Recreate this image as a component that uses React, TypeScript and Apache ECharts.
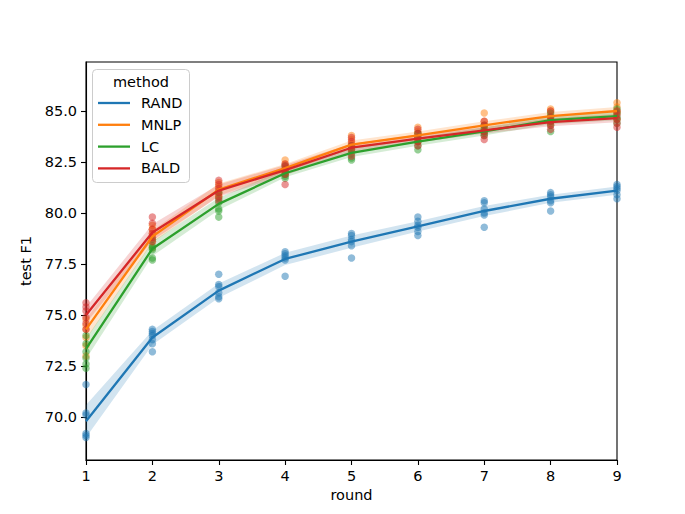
import React, { useEffect, useRef } from "react";
import * as echarts from "echarts";

const ROUNDS = [1, 2, 3, 4, 5, 6, 7, 8, 9];
const METHODS = ["RAND", "MNLP", "LC", "BALD"];
const COLORS = ["#1f77b4", "#ff7f0e", "#2ca02c", "#d62728"];
const Y_TICKS = [70, 72.5, 75, 77.5, 80, 82.5, 85];

const RAND_MEAN = [69.8, 73.9, 76.2, 77.75, 78.6, 79.35, 80.1, 80.7, 81.1];
const MNLP_MEAN = [74.3, 78.85, 81.15, 82.2, 83.35, 83.8, 84.3, 84.75, 85.0];
const LC_MEAN = [73.35, 78.25, 80.45, 81.95, 82.95, 83.5, 84.0, 84.55, 84.75];
const BALD_MEAN = [75.0, 79.05, 81.1, 82.1, 83.2, 83.65, 84.05, 84.45, 84.65];

const RAND_HALF = [0.8, 0.35, 0.35, 0.3, 0.3, 0.25, 0.25, 0.2, 0.2];
const MNLP_HALF = [0.5, 0.3, 0.3, 0.2, 0.2, 0.2, 0.2, 0.2, 0.2];
const LC_HALF = [0.5, 0.35, 0.3, 0.2, 0.2, 0.2, 0.2, 0.2, 0.2];
const BALD_HALF = [0.4, 0.4, 0.3, 0.25, 0.2, 0.2, 0.15, 0.2, 0.2];

const RAND_PTS = [
  [71.6, 70.2, 70.1, 69.2, 69.1, 69.0],
  [74.3, 74.2, 74.1, 74.0, 73.8, 73.6, 73.2],
  [77.0, 76.5, 76.4, 76.1, 75.9, 75.8],
  [78.1, 78.0, 77.9, 77.8, 77.7, 76.9],
  [79.0, 78.9, 78.7, 78.6, 78.4, 77.8],
  [79.8, 79.6, 79.4, 79.3, 79.1, 78.9],
  [80.6, 80.5, 80.2, 80.0, 79.9, 79.3],
  [81.0, 80.9, 80.8, 80.6, 80.5, 80.1],
  [81.4, 81.3, 81.2, 81.1, 80.9, 80.7],
];
const MNLP_PTS = [
  [74.8, 74.5, 74.3, 73.9, 73.5, 73.0],
  [79.4, 79.2, 79.0, 78.8, 78.6, 78.3],
  [81.5, 81.3, 81.1, 80.9, 80.8],
  [82.6, 82.4, 82.2, 82.0, 81.9],
  [83.8, 83.6, 83.4, 83.2, 83.0],
  [84.2, 84.0, 83.9, 83.7, 83.5],
  [84.9, 84.5, 84.3, 84.2, 84.0],
  [85.1, 85.0, 84.8, 84.6, 84.4],
  [85.4, 85.2, 85.0, 84.9, 84.6],
];
const LC_PTS = [
  [74.0, 73.6, 73.2, 72.9, 72.6, 72.4],
  [78.7, 78.4, 78.3, 78.2, 77.8, 77.7],
  [81.0, 80.7, 80.5, 80.2, 80.1, 79.8],
  [82.3, 82.1, 81.9, 81.8, 81.7],
  [83.3, 83.1, 82.9, 82.7, 82.6],
  [83.9, 83.7, 83.5, 83.3, 83.1],
  [84.3, 84.1, 84.0, 83.9, 83.8],
  [84.9, 84.7, 84.5, 84.3, 84.0],
  [85.1, 84.9, 84.7, 84.6, 84.4],
];
const BALD_PTS = [
  [75.6, 75.4, 75.2, 74.9, 74.6, 74.3],
  [79.8, 79.5, 79.2, 79.0, 78.8, 78.6],
  [81.6, 81.4, 81.2, 81.0, 80.8, 80.6],
  [82.4, 82.3, 82.1, 81.9, 81.4],
  [83.7, 83.5, 83.3, 83.1, 82.8],
  [84.1, 83.9, 83.7, 83.5, 83.3],
  [84.5, 84.3, 84.0, 83.8, 83.6],
  [85.0, 84.7, 84.5, 84.3, 84.1],
  [85.0, 84.8, 84.6, 84.4, 84.2],
];

const MEANS = [RAND_MEAN, MNLP_MEAN, LC_MEAN, BALD_MEAN];
const HALVES = [RAND_HALF, MNLP_HALF, LC_HALF, BALD_HALF];
const POINTS = [RAND_PTS, MNLP_PTS, LC_PTS, BALD_PTS];

const FONT = "DejaVu Sans";

export default function App() {
  const ref = useRef<HTMLDivElement>(null);
  useEffect(() => {
    document.body.style.margin = "0";
    const chart = echarts.init(ref.current!, null, { renderer: "svg" });
    const series: any[] = [];
    METHODS.forEach((m, i) => {
      const mean = MEANS[i];
      const half = HALVES[i];
      series.push({
        name: m + " band",
        type: "custom",
        data: [0],
        silent: true,
        z: 1,
        renderItem: (params: any, api: any) => {
          const upper = ROUNDS.map((r, k) => api.coord([r, mean[k] + half[k]]));
          const lower = ROUNDS.map((r, k) => api.coord([r, mean[k] - half[k]])).reverse();
          return {
            type: "polygon",
            shape: { points: upper.concat(lower) },
            style: { fill: COLORS[i], opacity: 0.2 },
          };
        },
      });
    });
    METHODS.forEach((m, i) => {
      const pts: number[][] = [];
      POINTS[i].forEach((vals, k) => vals.forEach((v) => pts.push([ROUNDS[k], v])));
      series.push({
        name: m + " pts",
        type: "scatter",
        data: pts,
        symbolSize: 7.5,
        itemStyle: { color: COLORS[i], opacity: 0.5 },
        z: 2,
      });
    });
    METHODS.forEach((m, i) => {
      series.push({
        name: m,
        type: "line",
        data: ROUNDS.map((r, k) => [r, MEANS[i][k]]),
        symbol: "none",
        color: COLORS[i],
        lineStyle: { color: COLORS[i], width: 2.3 },
        z: 3,
      });
    });

    const legendGraphics: any[] = [
      {
        type: "rect",
        shape: { x: 92.5, y: 69.5, width: 97, height: 113, r: 4 },
        style: { fill: "rgba(255,255,255,0.8)", stroke: "#cccccc", lineWidth: 1 },
        z: 10,
      },
      {
        type: "text",
        x: 141,
        y: 82,
        style: {
          text: "method",
          fill: "#000",
          fontSize: 14.5,
          fontFamily: FONT,
          align: "center",
          verticalAlign: "middle",
        },
        z: 11,
      },
    ];
    METHODS.forEach((m, i) => {
      const cy = 103 + i * 21.8;
      legendGraphics.push({
        type: "line",
        shape: { x1: 98, y1: cy, x2: 130, y2: cy },
        style: { stroke: COLORS[i], lineWidth: 2.3 },
        z: 11,
      });
      legendGraphics.push({
        type: "text",
        x: 141,
        y: cy,
        style: {
          text: m,
          fill: "#000",
          fontSize: 14.5,
          fontFamily: FONT,
          align: "left",
          verticalAlign: "middle",
        },
        z: 11,
      });
    });

    chart.setOption({
      animation: false,
      backgroundColor: "#ffffff",
      textStyle: { fontFamily: FONT },
      grid: {
        left: 86,
        right: 68,
        top: 62,
        bottom: 54,
        show: true,
        borderColor: "#000",
        borderWidth: 1.1,
        backgroundColor: "transparent",
      },
      xAxis: {
        type: "value",
        min: 1,
        max: 9,
        interval: 1,
        name: "round",
        nameLocation: "middle",
        nameGap: 26,
        nameTextStyle: { color: "#000", fontSize: 14.5, fontFamily: FONT },
        axisLine: { show: true, lineStyle: { color: "#000", width: 1.1 } },
        axisTick: { show: true, length: 5, lineStyle: { color: "#000", width: 1.1 } },
        axisLabel: { color: "#000", fontSize: 14.5, margin: 8, fontFamily: FONT },
        splitLine: { show: false },
      },
      yAxis: {
        type: "value",
        min: 67.9,
        max: 87.4,
        name: "test F1",
        nameLocation: "middle",
        nameGap: 46,
        nameTextStyle: { color: "#000", fontSize: 14.5, fontFamily: FONT },
        axisLine: { show: true, lineStyle: { color: "#000", width: 1.1 } },
        axisTick: {
          show: true,
          length: 5,
          customValues: Y_TICKS,
          lineStyle: { color: "#000", width: 1.1 },
        },
        axisLabel: {
          color: "#000",
          fontSize: 14.5,
          margin: 9,
          fontFamily: FONT,
          customValues: Y_TICKS,
          formatter: (v: number) => v.toFixed(1),
        },
        splitLine: { show: false },
      },
      graphic: legendGraphics,
      series,
    });
    return () => chart.dispose();
  }, []);
  return <div ref={ref} style={{ width: 685, height: 514 }} />;
}
